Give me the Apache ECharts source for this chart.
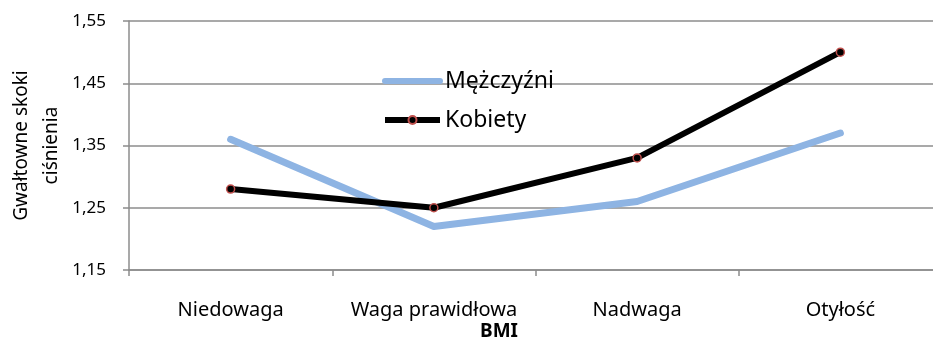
<!DOCTYPE html>
<html>
<head>
<meta charset="utf-8">
<script src="https://cdn.jsdelivr.net/npm/echarts@6/dist/echarts.min.js"></script>
<style>
  html, body { margin: 0; padding: 0; background: #fff; }
  #chart { width: 933px; height: 338px; }
</style>
</head>
<body>
<div id="chart"></div>
<script>
// BMI groups along the category axis
const categories = ['Niedowaga', 'Waga prawidłowa', 'Nadwaga', 'Otyłość'];
// Mean values per group
const menValues = [1.36, 1.22, 1.26, 1.37];
const womenValues = [1.28, 1.25, 1.33, 1.50];
const seriesNames = ['Mężczyźni', 'Kobiety'];
// Value axis range
const yMin = 1.15, yMax = 1.55, yStep = 0.1;

const font = 'Noto Sans';
const gray = '#8c8c8c';
const chart = echarts.init(document.getElementById('chart'), null, { renderer: 'canvas' });

chart.setOption({
  animation: false,
  backgroundColor: '#ffffff',
  grid: { left: 129, top: 21, width: 813, bottom: 68, containLabel: false, outerBoundsMode: 'none' },
  legend: {
    orient: 'vertical',
    left: 377,
    top: 64,
    itemWidth: 55,
    itemHeight: 10,
    itemGap: 15,
    data: [
      { name: seriesNames[0], itemStyle: { color: 'rgba(0,0,0,0)', borderWidth: 0 }, lineStyle: { width: 6 } },
      { name: seriesNames[1], lineStyle: { width: 6 } }
    ],
    textStyle: { fontFamily: font, fontSize: 23, lineHeight: 24, color: '#000' }
  },
  xAxis: {
    type: 'category',
    data: categories,
    boundaryGap: true,
    name: 'BMI',
    nameLocation: 'middle',
    nameGap: 52,
    nameMoveOverlap: false,
    nameTextStyle: { fontFamily: font, fontSize: 19, fontWeight: 'bold', color: '#000', padding: [0, 73, 0, 0] },
    axisLine: { lineStyle: { color: gray, width: 1.5 } },
    axisTick: { show: true, length: 6, alignWithLabel: false, lineStyle: { color: gray, width: 1.5 } },
    axisLabel: { interval: 0, fontFamily: font, fontSize: 20, color: '#000', margin: 30 }
  },
  yAxis: {
    type: 'value',
    min: yMin,
    max: yMax,
    interval: yStep,
    name: 'Gwałtowne skoki\nciśnienia',
    nameLocation: 'middle',
    nameGap: 62,
    nameMoveOverlap: false,
    nameTextStyle: { fontFamily: font, fontSize: 19, color: '#000', lineHeight: 30 },
    axisLine: { show: true, lineStyle: { color: gray, width: 1.5 } },
    axisTick: { show: true, length: 6, lineStyle: { color: gray, width: 1.5 } },
    axisLabel: {
      fontFamily: font, fontSize: 17, color: '#000', margin: 23,
      formatter: v => v.toFixed(2).replace('.', ',')
    },
    splitLine: { lineStyle: { color: gray, width: 1.5 } }
  },
  series: [
    {
      name: seriesNames[0],
      type: 'line',
      data: menValues,
      symbol: 'none',
      color: '#8EB4E3',
      lineStyle: { color: '#8EB4E3', width: 7, cap: 'round', join: 'round' },
      z: 2
    },
    {
      name: seriesNames[1],
      type: 'line',
      data: womenValues,
      symbol: 'circle',
      symbolSize: 8,
      showAllSymbol: true,
      color: '#000000',
      itemStyle: { color: '#000000', borderColor: '#C0504D', borderWidth: 1.5 },
      lineStyle: { color: '#000000', width: 6, join: 'round' },
      z: 3
    }
  ]
});
</script>
</body>
</html>
